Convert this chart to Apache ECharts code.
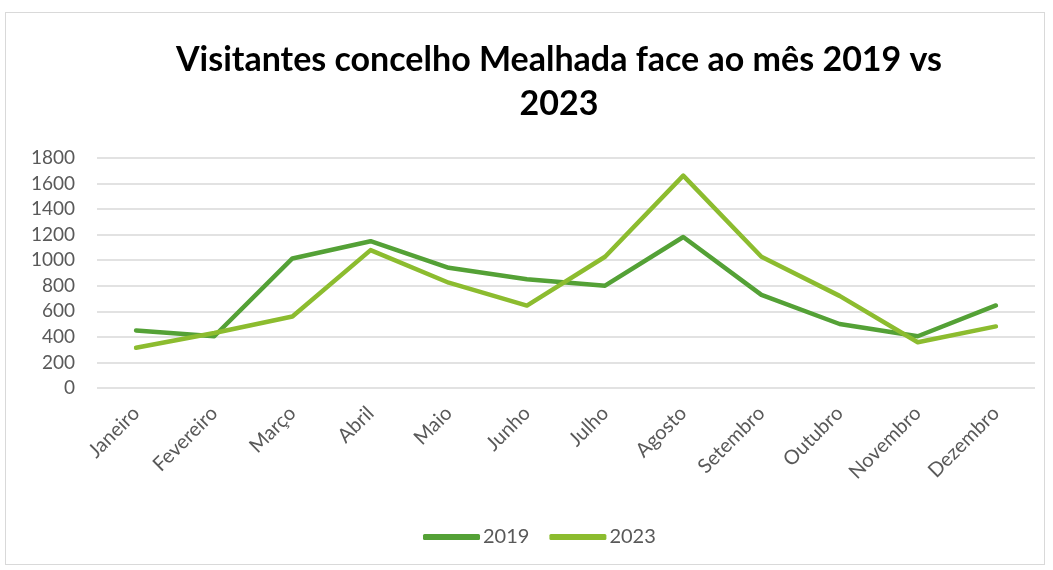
<!DOCTYPE html>
<html lang="pt">
<head>
<meta charset="utf-8">
<script src="https://cdn.jsdelivr.net/npm/echarts@6/dist/echarts.min.js"></script>
<style>
    html, body { margin: 0; padding: 0; background: #fff; }
    #main {
        position: absolute;
        left: 5px; top: 12px;
        width: 1040px; height: 553px;
        border: 1px solid #d9d9d9;
        box-sizing: border-box;
    }
</style>
</head>
<body>
<div id="main"></div>
<script>
    var meses = ['Janeiro', 'Fevereiro', 'Março', 'Abril', 'Maio', 'Junho',
        'Julho', 'Agosto', 'Setembro', 'Outubro', 'Novembro', 'Dezembro'];
    var valores2019 = [450, 405, 1014, 1149, 941, 851, 801, 1182, 729, 501, 405, 646];
    var valores2023 = [315, 430, 560, 1079, 824, 645, 1027, 1662, 1027, 721, 358, 482];
    var tituloTexto = 'Visitantes concelho Mealhada face ao mês 2019 vs\n2023';

    var fonte = 'Lato, "Open Sans", sans-serif';

    var option = {
        animation: false,
        title: {
            text: tituloTexto,
            left: 548,
            top: 20,
            textAlign: 'center',
            textStyle: {
                fontFamily: fonte,
                fontSize: 34,
                fontWeight: 'bold',
                color: '#000',
                lineHeight: 44
            }
        },
        legend: {
            bottom: 12,
            left: 412,
            itemWidth: 57,
            itemHeight: 6,
            itemGap: 20,
            icon: 'roundRect',
            textStyle: { fontFamily: fonte, fontSize: 20, color: '#595959', padding: [0, 0, 0, -2] },
            data: ['2019', '2023']
        },
        grid: {
            left: 91,
            right: 9,
            top: 145,
            bottom: 176
        },
        xAxis: {
            type: 'category',
            data: meses,
            boundaryGap: true,
            axisLine: { show: false },
            axisTick: { show: false },
            axisLabel: {
                rotate: 45,
                fontFamily: fonte,
                fontSize: 20,
                color: '#595959',
                margin: 22
            }
        },
        yAxis: {
            type: 'value',
            min: 0,
            max: 1800,
            interval: 200,
            axisLine: { show: false },
            axisTick: { show: false },
            axisLabel: {
                fontFamily: fonte,
                fontSize: 19,
                color: '#595959',
                margin: 22,
                formatter: function (v) { return String(v); }
            },
            splitLine: { lineStyle: { color: '#d9d9d9', width: 1.5 } }
        },
        series: [
            {
                name: '2019',
                type: 'line',
                data: valores2019,
                symbol: 'none',
                lineStyle: { width: 4.5, color: '#54a136', cap: 'round', join: 'round' },
                itemStyle: { color: '#54a136' }
            },
            {
                name: '2023',
                type: 'line',
                data: valores2023,
                symbol: 'none',
                lineStyle: { width: 4.5, color: '#8cbc2f', cap: 'round', join: 'round' },
                itemStyle: { color: '#8cbc2f' }
            }
        ]
    };

    var myChart = echarts.init(document.getElementById('main'));
    myChart.setOption(option);
</script>
</body>
</html>
